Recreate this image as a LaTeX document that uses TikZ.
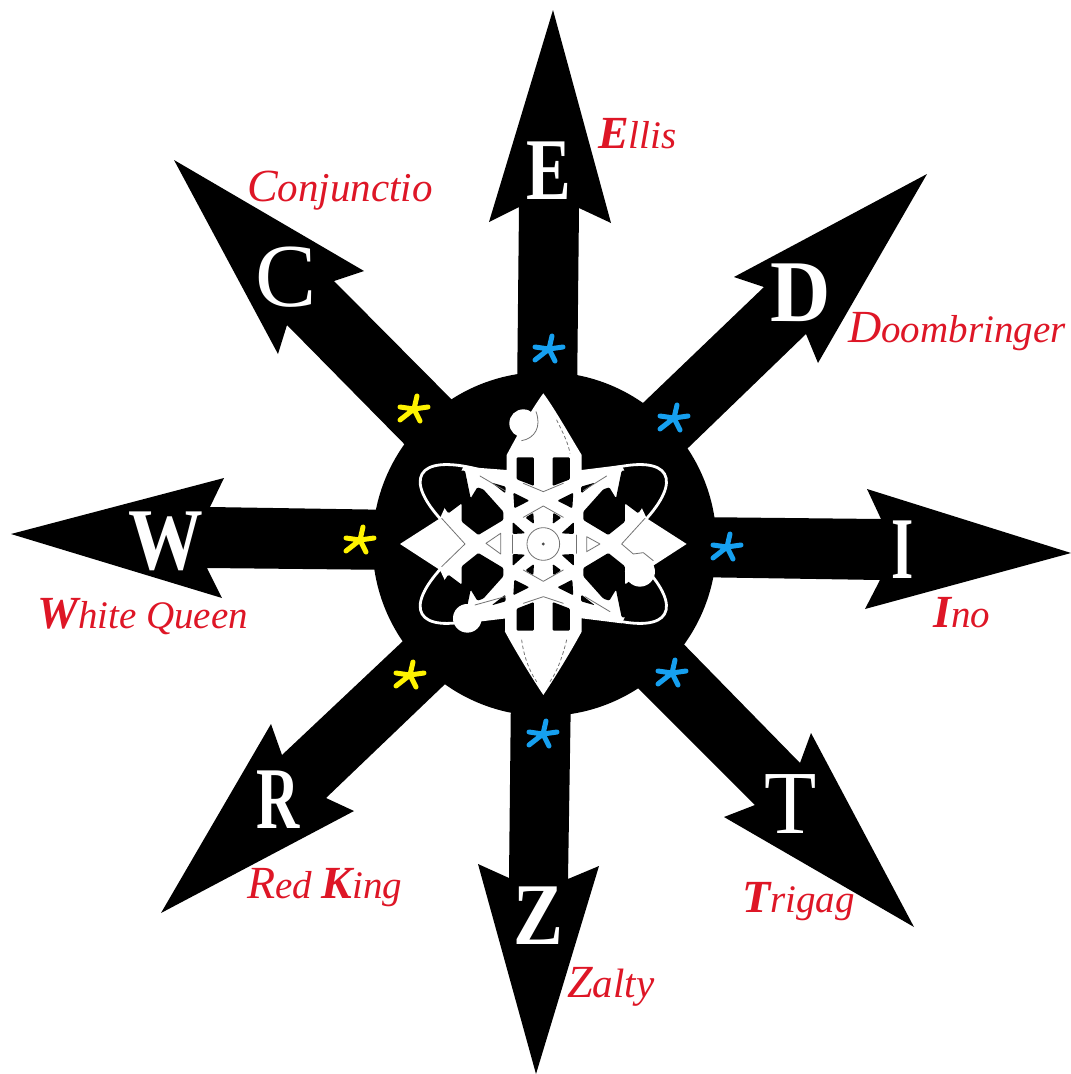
\documentclass[tikz,border=0pt]{standalone}
\usepackage{fontspec}
\usepackage{graphicx}
\setmainfont{Liberation Serif}
\definecolor{labelred}{RGB}{222,22,38}
\definecolor{staryellow}{RGB}{255,243,0}
\definecolor{starblue}{RGB}{22,160,240}
\newcommand{\arrowletter}[2]{\scalebox{#1}[1]{#2}}
\newcommand{\capl}[1]{{\fontsize{46}{46}\selectfont #1}}
\newcommand{\capb}[1]{{\fontsize{46}{46}\selectfont\bfseries #1}}
\tikzset{
  x=1pt,y=-1pt,
  arrowbody/.style={fill=black,draw=none},
  letterlab/.style={anchor=base,inner sep=0pt,text=white,font=\fontsize{88}{88}\selectfont\bfseries},
  thinletter/.style={letterlab,font=\fontsize{90}{90}\selectfont},
  namelab/.style={anchor=base west,inner sep=0pt,text=labelred,font=\fontsize{39}{39}\selectfont\itshape},
  namewide/.style={namelab,font=\fontsize{41}{41}\selectfont\itshape},
  emwhite/.style={fill=white,draw=none},
  emwin/.style={fill=black,draw=none,rounded corners=1.2pt},
  emdetail/.style={draw=black!55,line width=0.8pt,line cap=round,line join=round},
  emorbit/.style={draw=white,line width=2.8pt},
  pics/astar/.style={code={\draw[line width=5pt,line cap=round,line join=round,draw=#1]
     (4,-12) -- (1,1) -- (15,-1) (1,1) -- (7,13) (1,1) -- (-13,12) (1,1) -- (-13,-1);}},
}
\begin{document}
\begin{tikzpicture}
\useasboundingbox (0,0) rectangle (1071,1074);
\fill[white] (0,0) rectangle (1071,1074);
% arrows
\fill[arrowbody] (517,400)--(519,207)--(489,222)--(553,10)--(611,223)--(579,208)--(577,400)--cycle;
\fill[arrowbody] (470,418)--(334,281)--(364,271)--(174,160)--(278,354)--(287,325)--(420,460)--cycle;
\fill[arrowbody] (620,425)--(764,287)--(734,277)--(927,174)--(818,363)--(806,334)--(660,475)--cycle;
\fill[arrowbody] (400,510)--(210,507)--(224,478)--(11,534)--(222,598)--(207,568)--(400,570)--cycle;
\fill[arrowbody] (690,517)--(881,519)--(867,489)--(1071,553)--(865,609)--(880,580)--(690,577)--cycle;
\fill[arrowbody] (420,625)--(282,755)--(271,724)--(161,913)--(354,811)--(326,798)--(465,665)--cycle;
\fill[arrowbody] (511,690)--(509,878)--(478,864)--(536,1074)--(599,866)--(568,879)--(571,690)--cycle;
\fill[arrowbody] (665,625)--(800,763)--(811,733)--(914,927)--(724,817)--(755,805)--(615,665)--cycle;
\fill[black] (544.5,544) circle [radius=172];
% emblem, in the coordinates of a 3x crop
\begin{scope}[shift={(380,370)},x=0.3333pt,y=-0.3333pt]
  % orbits
  \draw[emorbit,shift={(490,522)},rotate=30] (0,0) ellipse [x radius=420,y radius=130];
  \draw[emorbit,shift={(490,522)},rotate=-30] (0,0) ellipse [x radius=420,y radius=130];
  % spindle
  \fill[emwhite] (490,70) .. controls (520,110) and (560,180) .. (605,255) -- (605,785)
     .. controls (570,850) and (520,930) .. (490,975) .. controls (460,930) and (410,850) .. (375,785)
     -- (380,255) .. controls (420,180) and (460,110) .. (490,70) -- cycle;
  % side points and central body
  \fill[emwhite] (60,522)--(180,445)--(250,290)--(380,300)--(605,300)--(725,285)--(800,445)--(920,522)--(815,590)
     --(725,760)--(605,745)--(380,745)--(255,760)--(180,600)--cycle;
  % windows: loops and large openings
  \foreach \sx/\ox in {1/0,-1/980}{\foreach \sy/\oy in {1/0,-1/1044}{
    \fill[emwin] ({\ox+\sx*150},{\oy+\sy*298})--({\ox+\sx*255},{\oy+\sy*302})--({\ox+\sx*272},{\oy+\sy*385})--({\ox+\sx*292},{\oy+\sy*352})
       --({\ox+\sx*310},{\oy+\sy*358})--({\ox+\sx*370},{\oy+\sy*425})--({\ox+\sx*370},{\oy+\sy*450})--({\ox+\sx*295},{\oy+\sy*495})
       --({\ox+\sx*245},{\oy+\sy*455})--({\ox+\sx*245},{\oy+\sy*400})--({\ox+\sx*205},{\oy+\sy*430})--({\ox+\sx*140},{\oy+\sy*335})--cycle;
    \fill[emwin] ({\ox+\sx*400},{\oy+\sy*368})--({\ox+\sx*448},{\oy+\sy*392})--({\ox+\sx*403},{\oy+\sy*415})--cycle;
    \fill[emwin] ({\ox+\sx*335},{\oy+\sy*338})--({\ox+\sx*377},{\oy+\sy*350})--({\ox+\sx*376},{\oy+\sy*370})--cycle;
    \fill[emwin] ({\ox+\sx*410},{\oy+\sy*262})--({\ox+\sx*462},{\oy+\sy*262})--({\ox+\sx*462},{\oy+\sy*348})--({\ox+\sx*410},{\oy+\sy*328})--cycle;
    \fill[emwin] ({\ox+\sx*436},{\oy+\sy*443})--({\ox+\sx*460},{\oy+\sy*428})--({\ox+\sx*462},{\oy+\sy*462})--cycle;
    \fill[emwin] ({\ox+\sx*398},{\oy+\sy*456})--({\ox+\sx*436},{\oy+\sy*490})--({\ox+\sx*398},{\oy+\sy*492})--cycle;
  }}
  % balls
  \fill[emwhite] (430,160) circle [radius=42];
  \fill[emwhite] (780,605) circle [radius=45];
  \fill[emwhite] (262,745) circle [radius=43];
  % fine lines
  \draw[emdetail] (468,125) .. controls (485,170) and (465,205) .. (425,212);
  \draw[emdetail,dashed] (530,150) .. controls (550,190) and (565,220) .. (570,250);
  \draw[emdetail,dashed] (425,810) .. controls (430,850) and (445,900) .. (470,935);
  \draw[emdetail,dashed] (560,810) .. controls (550,850) and (535,900) .. (510,935);
  \draw[emdetail] (185,445)--(255,522)--(185,590);
  \draw[emdetail] (795,445)--(725,522)--(760,552)--(790,548)--(820,572);
  \draw[emdetail] (490,408)--(430,442) (490,408)--(550,442) (490,634)--(430,600) (490,634)--(550,600);
  \draw[emdetail] (398,495)--(398,550) (590,495)--(590,550);
  \draw[emdetail] (430,340)--(490,365)--(550,340) (430,700)--(490,680)--(550,700);
  \draw[emdetail] (362,490)--(318,520)--(362,552)--cycle;
  \draw[emdetail] (620,500)--(660,522)--(620,545)--cycle;
  \draw[emdetail] (490,522) circle [radius=49];
  \fill[black!70] (490,522) circle [radius=5];
  \draw[emdetail] (300,318)--(375,362) (680,318)--(610,362) (285,705)--(375,680) (690,725)--(615,680);
\end{scope}
% stars
\pic at (548,348) {astar=starblue};
\pic at (673,417) {astar=starblue};
\pic at (726,546) {astar=starblue};
\pic at (671,672) {astar=starblue};
\pic at (542,733) {astar=starblue};
\pic at (409,674) {astar=staryellow};
\pic at (359,539) {astar=staryellow};
\pic at (413,408) {astar=staryellow};
% letters
\node[letterlab] (letE) at (549,199) {\arrowletter{.76}{E}};
\node[thinletter] (letC) at (286,306) {\arrowletter{1.02}{C}};
\node[letterlab] (letD) at (801,321) {\arrowletter{.95}{D}};
\node[letterlab] (letW) at (166,569) {\arrowletter{.85}{W}};
\node[letterlab] (letI) at (903,578) {\arrowletter{.65}{I}};
\node[letterlab] (letR) at (278,828) {\arrowletter{.68}{R}};
\node[letterlab] (letZ) at (538,944) {\arrowletter{.85}{Z}};
\node[thinletter] (letT) at (791,833) {\arrowletter{.95}{T}};
% names
\node[namelab] (nEllis) at (598,148) {\capb{E}llis};
\node[namewide] (nConj) at (247,201) {\capl{C}onjunctio};
\node[namelab] (nDoom) at (848,342) {\capl{D}oombringer};
\node[namelab] (nWhite) at (37,628) {\capb{W}hite Queen};
\node[namelab] (nIno) at (933,627) {\capb{I}no};
\node[namelab] (nRed) at (247,898) {\capl{R}ed \capb{K}ing};
\node[namewide] (nZalty) at (567,997) {\capl{Z}alty};
\node[namelab] (nTrigag) at (742,912) {\capb{T}rigag};
\end{tikzpicture}
\end{document}
